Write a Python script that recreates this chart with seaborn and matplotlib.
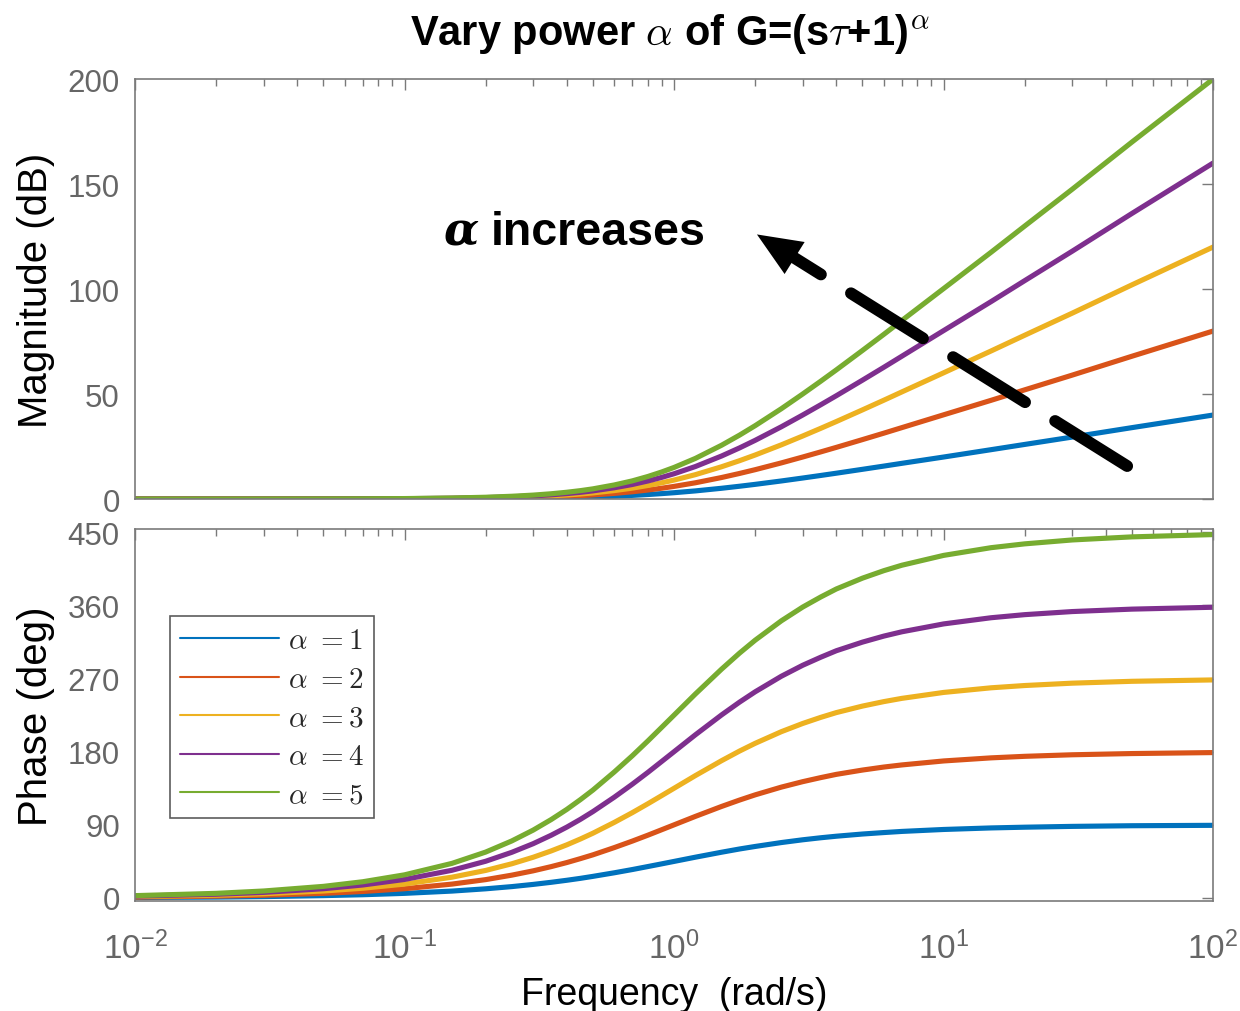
import numpy as np
import pandas as pd
import matplotlib
matplotlib.use("Agg")
import matplotlib.pyplot as plt
import seaborn as sns
from matplotlib.lines import Line2D
from matplotlib.ticker import LogLocator, NullFormatter, FixedLocator

# ---- data ----
freq = [0.01, 0.02, 0.03, 0.05, 0.07, 0.1, 0.15, 0.2, 0.25, 0.3, 0.35, 0.4, 0.45, 0.5,
        0.6, 0.7, 0.8, 0.9, 1.0, 1.2, 1.5, 1.75, 2.0, 2.5, 3.0, 3.5, 4.0, 5.0, 6.0, 7.0,
        10.0, 15.0, 20.0, 30.0, 50.0, 100.0]

alphas = [1, 2, 3, 4, 5]

mag_a1 = [0.0, 0.0, 0.0, 0.01, 0.02, 0.04, 0.10, 0.17, 0.26, 0.37, 0.50, 0.65, 0.80, 0.97,
          1.34, 1.73, 2.15, 2.58, 3.01, 3.87, 5.12, 6.09, 6.99, 8.60, 10.0, 11.22, 12.3,
          14.15, 15.68, 17.0, 20.0, 23.5, 26.0, 29.5, 34.0, 40.0]
mag_a2 = [0.0, 0.0, 0.01, 0.02, 0.04, 0.09, 0.19, 0.34, 0.53, 0.75, 1.00, 1.29, 1.60, 1.94,
          2.68, 3.46, 4.30, 5.15, 6.02, 7.74, 10.24, 12.18, 13.98, 17.20, 20.0, 22.44, 24.6,
          28.3, 31.36, 34.0, 40.1, 47.0, 52.0, 59.0, 68.0, 80.0]
mag_a3 = [0.0, 0.0, 0.01, 0.03, 0.06, 0.13, 0.29, 0.51, 0.79, 1.12, 1.51, 1.94, 2.40, 2.91,
          4.02, 5.19, 6.45, 7.73, 9.03, 11.61, 15.36, 18.26, 20.97, 25.8, 30.0, 33.66, 36.9,
          42.45, 47.05, 51.0, 60.1, 70.5, 78.0, 88.5, 102.0, 120.0]
mag_a4 = [0.0, 0.0, 0.02, 0.04, 0.08, 0.17, 0.39, 0.68, 1.05, 1.50, 2.01, 2.58, 3.20, 3.88,
          5.36, 6.92, 8.60, 10.31, 12.04, 15.48, 20.48, 24.35, 27.96, 34.4, 40.0, 44.88, 49.2,
          56.6, 62.73, 68.0, 80.2, 94.0, 104.0, 118.0, 136.0, 160.0]
mag_a5 = [0.0, 0.0, 0.02, 0.05, 0.11, 0.22, 0.49, 0.85, 1.32, 1.87, 2.51, 3.23, 4.01, 4.85,
          6.70, 8.65, 10.75, 12.89, 15.05, 19.35, 25.6, 30.44, 34.95, 43.0, 50.0, 56.1, 61.5,
          70.75, 78.41, 85.0, 100.2, 117.5, 130.0, 147.5, 170.0, 200.0]

ph_a1 = [0.6, 1.1, 1.7, 2.9, 4.0, 5.7, 8.5, 11.3, 14.0, 16.7, 19.3, 21.8, 24.2, 26.6,
         31.0, 35.0, 38.7, 42.0, 45.0, 50.2, 56.3, 60.3, 63.4, 68.2, 71.6, 74.1, 76.0,
         78.7, 80.5, 81.9, 84.3, 86.2, 87.1, 88.1, 88.9, 89.4]
ph_a2 = [1.1, 2.3, 3.4, 5.7, 8.0, 11.4, 17.1, 22.6, 28.1, 33.4, 38.6, 43.6, 48.5, 53.1,
         62.0, 70.0, 77.3, 84.0, 90.0, 100.4, 112.6, 120.5, 126.9, 136.4, 143.1, 148.1, 152.1,
         157.4, 161.1, 163.7, 168.6, 172.4, 174.3, 176.2, 177.7, 178.9]
ph_a3 = [1.7, 3.4, 5.2, 8.6, 12.0, 17.1, 25.6, 33.9, 42.1, 50.1, 57.9, 65.4, 72.7, 79.7,
         93.0, 105.0, 116.0, 126.0, 135.0, 150.6, 168.9, 180.8, 190.3, 204.6, 214.7, 222.2, 228.1,
         236.1, 241.6, 245.6, 252.9, 258.6, 261.4, 264.3, 266.6, 268.3]
ph_a4 = [2.3, 4.6, 6.9, 11.4, 16.0, 22.8, 34.1, 45.2, 56.2, 66.8, 77.2, 87.2, 96.9, 106.3,
         124.0, 140.0, 154.6, 168.0, 180.0, 200.8, 225.2, 241.0, 253.7, 272.8, 286.3, 296.2, 304.2,
         314.8, 322.2, 327.5, 337.2, 344.8, 348.6, 352.4, 355.4, 357.7]
ph_a5 = [2.9, 5.7, 8.6, 14.3, 20.0, 28.5, 42.6, 56.5, 70.2, 83.5, 96.5, 109.0, 121.2, 132.8,
         155.0, 175.0, 193.3, 210.0, 225.0, 251.0, 281.5, 301.3, 317.2, 341.0, 357.9, 370.3, 380.2,
         393.5, 402.7, 409.4, 421.5, 431.0, 435.7, 440.5, 444.3, 447.1]

mag_series = [mag_a1, mag_a2, mag_a3, mag_a4, mag_a5]
ph_series = [ph_a1, ph_a2, ph_a3, ph_a4, ph_a5]

mag_ticks = [0, 50, 100, 150, 200]
ph_ticks = [0, 90, 180, 270, 360, 450]
freq_ticks = [1e-2, 1e-1, 1e0, 1e1, 1e2]
freq_ticklabels = [r'$\mathregular{10^{-2}}$', r'$\mathregular{10^{-1}}$',
                   r'$\mathregular{10^{0}}$', r'$\mathregular{10^{1}}$',
                   r'$\mathregular{10^{2}}$']

colors = ['#0072BD', '#D95319', '#EDB120', '#7E2F8E', '#77AC30']

rows = []
for a, m, p in zip(alphas, mag_series, ph_series):
    for f, mv, pv in zip(freq, m, p):
        rows.append({'freq': f, 'mag': mv, 'phase': pv, 'alpha': a})
df = pd.DataFrame(rows)

# ---- style ----
sns.set_theme(style='white')
plt.rcParams['font.family'] = ['Liberation Sans', 'DejaVu Sans']
plt.rcParams['mathtext.fontset'] = 'cm'

tick_color = '#666666'
spine_color = '#7a7a7a'

fig = plt.figure(figsize=(12.4, 10.12), dpi=100)
ax1 = fig.add_axes([0.1089, 0.5059, 0.8694, 0.4150])
ax2 = fig.add_axes([0.1089, 0.1087, 0.8694, 0.3676])

pal = dict(zip(alphas, colors))
sns.lineplot(data=df, x='freq', y='mag', hue='alpha', palette=pal, lw=3.7,
             ax=ax1, legend=False, estimator=None, sort=True)
sns.lineplot(data=df, x='freq', y='phase', hue='alpha', palette=pal, lw=3.7,
             ax=ax2, legend=False, estimator=None, sort=True)

for ax in (ax1, ax2):
    ax.set_xscale('log')
    ax.set_xlim(1e-2, 1e2)
    ax.xaxis.set_major_locator(FixedLocator(freq_ticks))
    ax.xaxis.set_minor_locator(LogLocator(base=10, subs=np.arange(2, 10)))
    ax.xaxis.set_minor_formatter(NullFormatter())
    ax.tick_params(axis='both', which='both', direction='in', top=True, right=True,
                   colors=spine_color, labelcolor=tick_color, labelsize=22.5)
    ax.tick_params(axis='both', which='major', length=8, width=1.0)
    ax.tick_params(axis='y', which='major', pad=11)
    ax.tick_params(axis='x', which='minor', length=5, width=1.0)
    for s in ax.spines.values():
        s.set_visible(True)
        s.set_color(spine_color)
        s.set_linewidth(1.2)
    ax.set_xlabel('')

ax1.set_ylim(0, 200)
ax1.set_yticks(mag_ticks)
ax1.set_xticklabels([])
ax1.set_ylabel('Magnitude (dB)', fontsize=29, color='black', labelpad=9)

ax2.set_ylim(-3.7, 454)
ax2.set_yticks(ph_ticks)
ax2.set_xticklabels(freq_ticklabels)
ax2.tick_params(axis='x', which='major', pad=21, labelsize=24)
ax2.set_ylabel('Phase (deg)', fontsize=29, color='black', labelpad=9)
ax2.set_xlabel('Frequency  (rad/s)', fontsize=27, color='black', labelpad=8)

fig.text(0.5405, 0.966, r'Vary power $\alpha$ of G=(s$\tau$+1)$^{\alpha}$',
         ha='center', va='center', fontsize=30, fontweight='bold', color='black')

# annotation text: bold italic alpha followed by bold "increases"
t1 = ax1.text(0.139, 121.4, 'α', fontsize=33, fontweight='bold', fontstyle='italic',
              family='DejaVu Serif', ha='left', va='baseline', color='black')
fig.canvas.draw()
w_px = t1.get_window_extent(renderer=fig.canvas.get_renderer()).width
ax1.annotate('increases', xy=(0.139, 121.4), xycoords='data',
             xytext=(w_px * 72 / fig.dpi + 9, 0), textcoords='offset points',
             fontsize=33.5, fontweight='bold', ha='left', va='baseline', color='black')

# dashed arrow: dashed shaft + solid filled head
arrow_tip = (2.03, 126)
arrow_tail = (48, 15.7)
ax1.annotate('', xy=arrow_tip, xytext=arrow_tail,
             arrowprops=dict(arrowstyle='-', color='black', lw=8.5,
                             linestyle=(0, (7.2, 3.0)),
                             shrinkA=0, shrinkB=18))
ax1.annotate('', xy=arrow_tip, xytext=arrow_tail,
             arrowprops=dict(arrowstyle='-|>,head_length=1.6,head_width=0.68',
                             mutation_scale=20, color='black', lw=0,
                             shrinkA=0, shrinkB=0))

handles = [Line2D([0], [0], color=c, lw=1.5) for c in colors]
labels = [r'$\alpha\ {=}1$', r'$\alpha\ {=}2$', r'$\alpha\ {=}3$',
          r'$\alpha\ {=}4$', r'$\alpha\ {=}5$']
leg = ax2.legend(handles, labels, loc='upper left', bbox_to_anchor=(0.0325, 0.766),
                 fontsize=21, frameon=True, fancybox=False, handlelength=3.4,
                 handletextpad=0.3, labelspacing=0.36, borderpad=0.35, borderaxespad=0)
leg.get_frame().set_edgecolor('#333333')
leg.get_frame().set_linewidth(1.2)

fig.savefig('out.png', dpi=100, facecolor='white')
